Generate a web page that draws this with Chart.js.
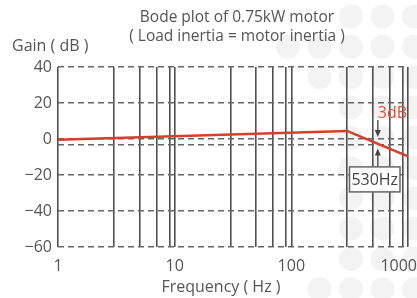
<!DOCTYPE html>
<html>
<head>
<meta charset="utf-8">
<script src="https://cdn.jsdelivr.net/npm/chart.js@4"></script>
<style>
  html, body { margin: 0; padding: 0; background: #fff; }
  #wrap { width: 417px; height: 298px; position: relative; }
</style>
</head>
<body>
<div id="wrap"><canvas id="bode"></canvas></div>
<script>
// Data
const freqHz = [1, 300, 1000];
const gainDb = [-0.4, 4.5, -9.7];

const xGridTicks = [1, 3, 5, 7, 9, 10, 30, 50, 70, 90, 100, 300, 500, 700, 900, 1000];
const xLabels = [1, 10, 100, 1000];
const yGridTicks = [40, 20, 0, -3, -20, -40, -60];
const yLabels = [40, 20, 0, -20, -40, -60];

const cutoffHz = 530;
const cutoffDb = -3;

const textColor = '#555';
const fontName = "'Open Sans', 'Noto Sans', sans-serif";

// faint dotted background on the right side
const bgDots = {
    id: 'bgDots',
    beforeDraw(chart) {
        const ctx = chart.ctx;
        const startCol = [2, 0, 1, 2, 2, 2, 2, 2, 2, 1];
        ctx.save();
        ctx.fillStyle = '#f3f3f3';
        for (let r = 0; r < startCol.length; r++) {
            for (let c = startCol[r]; c < 5; c++) {
                ctx.beginPath();
                ctx.arc(288 + c * 31.5, 16.5 + r * 30.3, 12, 0, Math.PI * 2);
                ctx.fill();
            }
        }
        ctx.restore();
    }
};

// titles, x labels and the -3 dB note
const extras = {
    id: 'extras',
    afterDraw(chart) {
        const ctx = chart.ctx;
        const xs = chart.scales.x;
        const ys = chart.scales.y;
        ctx.save();

        ctx.fillStyle = textColor;
        ctx.font = '15.5px ' + fontName;
        ctx.textAlign = 'center';
        ctx.textBaseline = 'middle';
        ctx.fillText('Bode plot of 0.75kW motor', 237, 18);
        ctx.fillText('( Load inertia = motor inertia )', 237, 37);
        ctx.font = '16px ' + fontName;
        ctx.fillText('Frequency ( Hz )', 221, 287);
        ctx.textAlign = 'left';
        ctx.fillText('Gain ( dB )', 12, 46);

        // x tick labels, kept inside the canvas
        ctx.font = '16px ' + fontName;
        ctx.textAlign = 'center';
        xLabels.forEach(v => {
            const w = ctx.measureText(String(v)).width;
            const px = Math.min(xs.getPixelForValue(v), chart.width - w / 2);
            ctx.fillText(String(v), px, 266);
        });

        // -3 dB marker
        const cx = xs.getPixelForValue(cutoffHz) + 2;
        const y0 = ys.getPixelForValue(0);
        const y3 = ys.getPixelForValue(cutoffDb);
        ctx.strokeStyle = '#444';
        ctx.fillStyle = '#444';
        ctx.lineWidth = 1.3;

        ctx.beginPath();
        ctx.moveTo(cx, y0 - 19);
        ctx.lineTo(cx, y0 - 4);
        ctx.stroke();
        ctx.beginPath();
        ctx.moveTo(cx, y0 - 2);
        ctx.lineTo(cx - 3, y0 - 9);
        ctx.lineTo(cx + 3, y0 - 9);
        ctx.closePath();
        ctx.fill();

        ctx.beginPath();
        ctx.moveTo(cx, y3 + 23);
        ctx.lineTo(cx, y3 + 7);
        ctx.stroke();
        ctx.beginPath();
        ctx.moveTo(cx, y3 + 4);
        ctx.lineTo(cx - 3, y3 + 11);
        ctx.lineTo(cx + 3, y3 + 11);
        ctx.closePath();
        ctx.fill();

        ctx.fillStyle = '#e0503a';
        ctx.font = '16px ' + fontName;
        ctx.textAlign = 'left';
        ctx.fillText('3dB', cx, y0 - 26);

        // frequency box
        const bx = 349.5, by = y3 + 22.5, bw = 50.5, bh = 25;
        ctx.fillStyle = '#fff';
        ctx.fillRect(bx, by, bw, bh);
        ctx.strokeStyle = '#666';
        ctx.lineWidth = 1.5;
        ctx.strokeRect(bx, by, bw, bh);
        ctx.fillStyle = '#444';
        ctx.textAlign = 'center';
        ctx.fillText(cutoffHz + 'Hz', bx + bw / 2, by + bh / 2 + 1);

        ctx.restore();
    }
};

new Chart(document.getElementById('bode'), {
    type: 'line',
    data: {
        datasets: [{
            data: freqHz.map((f, i) => ({ x: f, y: gainDb[i] })),
            borderColor: '#d4402a',
            borderWidth: 2.5,
            pointRadius: 0,
            fill: false,
            tension: 0
        }]
    },
    options: {
        responsive: true,
        maintainAspectRatio: false,
        animation: false,
        layout: { padding: { top: 67, right: 9, left: 0, bottom: 0 } },
        plugins: {
            legend: { display: false },
            tooltip: { enabled: false }
        },
        scales: {
            x: {
                type: 'logarithmic',
                min: 1,
                max: 1000,
                afterBuildTicks: s => { s.ticks = xGridTicks.map(v => ({ value: v })); },
                afterFit: s => { s.height = 51; },
                ticks: { display: false },
                grid: { color: '#505050', lineWidth: 1.6, drawTicks: false },
                border: { display: false }
            },
            y: {
                min: -60,
                max: 40,
                afterBuildTicks: s => { s.ticks = yGridTicks.map(v => ({ value: v })); },
                afterFit: s => { s.width = 58; },
                ticks: {
                    padding: 6,
                    color: textColor,
                    font: { family: fontName, size: 16 },
                    callback: v => yLabels.includes(v) ? String(v).replace('-', '\u2212') : ''
                },
                grid: { color: '#666', lineWidth: 1.5, drawTicks: false },
                border: { display: false, dash: [6, 4] }
            }
        }
    },
    plugins: [bgDots, extras]
});
</script>
</body>
</html>
